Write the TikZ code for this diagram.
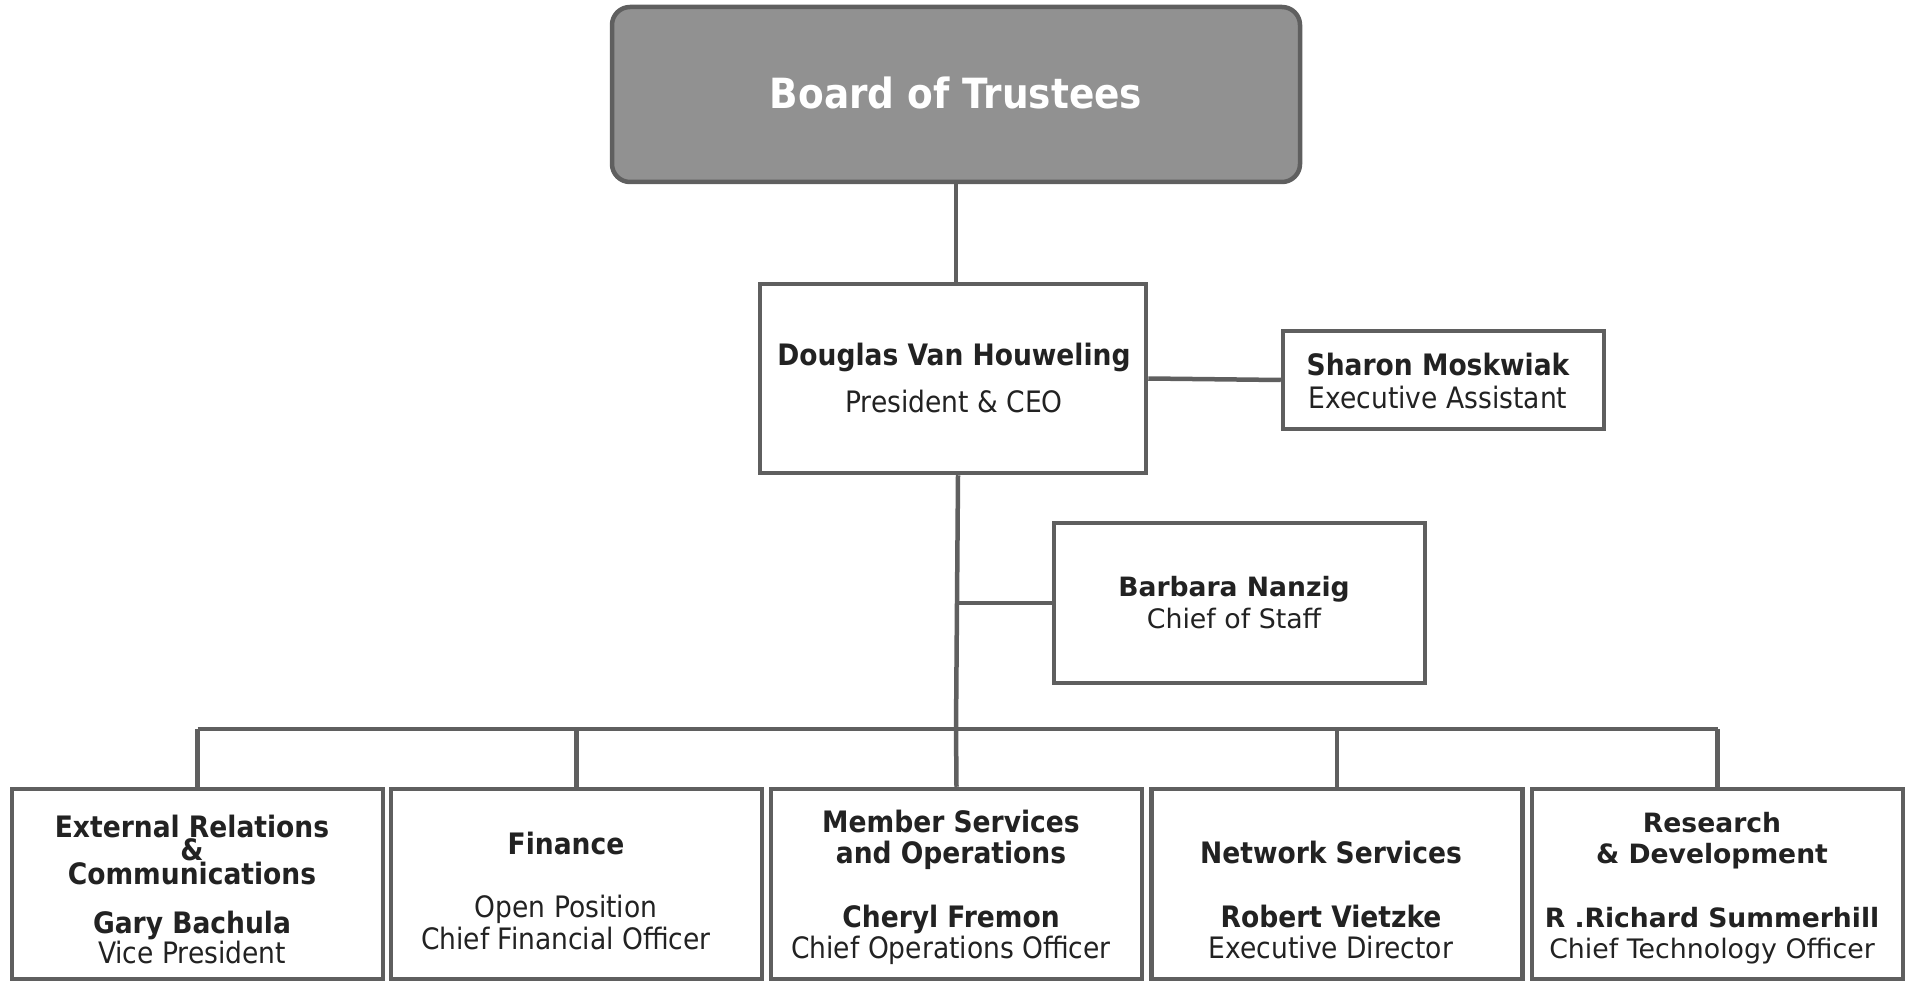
\documentclass[tikz,border=0pt]{standalone}
\usepackage{fontspec}
\setmainfont{DejaVu Sans}
\newfontfamily\cond{DejaVu Sans Condensed}
\definecolor{linec}{HTML}{5F5F5F}
\definecolor{boardfill}{HTML}{919191}
\definecolor{txt}{HTML}{222222}
\tikzset{
  box/.style={draw=linec, line width=4.5pt, fill=white, inner sep=0pt},
  conn/.style={draw=linec, line width=4.5pt},
  lbl/.style={inner sep=0pt, anchor=base, text=txt},
  cb/.style={lbl, font=\cond\bfseries\fontsize{29.5}{34}\selectfont},
  cn/.style={lbl, font=\cond\fontsize{29.5}{34}\selectfont},
  nb/.style={lbl, font=\bfseries\fontsize{26.6}{30}\selectfont},
  nn/.style={lbl, font=\fontsize{26.8}{30}\selectfont},
}
\begin{document}
\begin{tikzpicture}[x=1pt,y=-1pt]
\useasboundingbox (0,0) rectangle (1911,981);
% boxes
\node[box, fill=boardfill, rounded corners=18pt, minimum width=688pt, minimum height=175pt] (board) at (956,94.5) {};
\node[box, minimum width=386pt, minimum height=189pt] (doug) at (953,378.5) {};
\node[box, minimum width=321pt, minimum height=98pt] (sharon) at (1443.5,380) {};
\node[box, minimum width=371pt, minimum height=160pt] (barb) at (1239.5,603) {};
\node[box, minimum width=371pt, minimum height=190pt] (b1) at (197.5,884) {};
\node[box, minimum width=371pt, minimum height=190pt] (b2) at (576.5,884) {};
\node[box, minimum width=371pt, minimum height=190pt] (b3) at (956.5,884) {};
\node[box, minimum width=371pt, minimum height=190pt] (b4) at (1337,884) {};
\node[box, minimum width=371pt, minimum height=190pt] (b5) at (1717.5,884) {};
% connectors
\coordinate (jct) at (956,729);
\coordinate (barbj) at (957,603);
\draw[conn] (board.south) -- (board.south |- doug.north);
\draw[conn] (doug.east) -- (sharon.west);
\draw[conn] ([xshift=5pt]doug.south) -- (jct);
\draw[conn] (barbj) -- (barb.west);
\draw[conn] (jct) -- (b3.north);
\draw[conn] (b1.north |- jct) -- (b5.north |- jct);
\foreach \b in {b1,b2,b4,b5} \draw[conn] (\b.north |- jct) -- (\b.north);
% texts
\node[lbl, text=white, font=\cond\bfseries\fontsize{41.6}{48}\selectfont] (tboard) at (956,109) {Board of Trustees};
\node[cb] (tdoug1) at (954,366) {Douglas Van Houweling};
\node[cn] (tdoug2) at (954,412) {President \& CEO};
\node[cb] (tsh1) at (1438,375) {Sharon Moskwiak};
\node[cn] (tsh2) at (1438,408) {Executive Assistant};
\node[nb] (tbarb1) at (1234,596) {Barbara Nanzig};
\node[nn] (tbarb2) at (1234,628) {Chief of Staff};
% box 1
\node[cb] (t11) at (192,837) {External Relations};
\node[cb] (t12) at (192,860) {\&};
\node[cb] (t13) at (192,884) {Communications};
\node[cb] (t14) at (192,933) {Gary Bachula};
\node[cn] (t15) at (192,963) {Vice President};
% box 2
\node[cb] (t21) at (566,854) {Finance};
\node[cn] (t22) at (566,917) {Open Position};
\node[cn] (t23) at (566,949) {Chief Financial Officer};
% box 3
\node[cb] (t31) at (951,832) {Member Services};
\node[cb] (t32) at (951,863) {and Operations};
\node[cb] (t33) at (951,927) {Cheryl Fremon};
\node[cn] (t34) at (951,958) {Chief Operations Officer};
% box 4
\node[cb] (t41) at (1331,863) {Network Services};
\node[cb] (t42) at (1331,927) {Robert Vietzke};
\node[cn] (t43) at (1331,958) {Executive Director};
% box 5
\node[nb] (t51) at (1712,832) {Research};
\node[nb] (t52) at (1712,863) {\& Development};
\node[nb] (t53) at (1712,927) {R .Richard Summerhill};
\node[nn] (t54) at (1712,958) {Chief Technology Officer};
\end{tikzpicture}
\end{document}
